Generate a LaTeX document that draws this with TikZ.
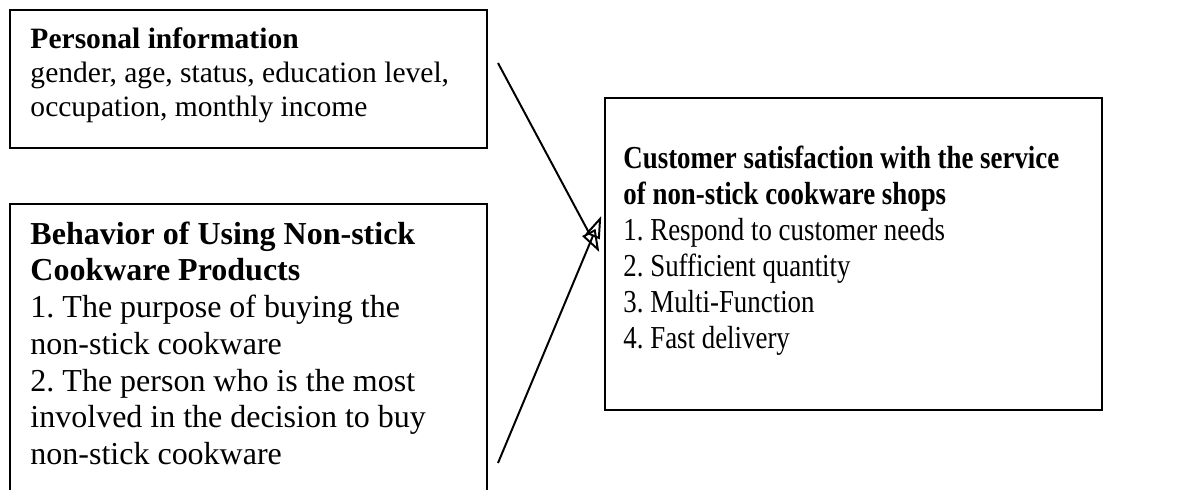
\documentclass[tikz,border=0pt]{standalone}
\usepackage{fontspec}
\setmainfont{Liberation Serif}
\newfontfamily\narrowserif[FakeStretch=0.84]{Liberation Serif}
\usetikzlibrary{arrows.meta}
\usetikzlibrary{fit}
\usetikzlibrary{calc}
\frenchspacing

\begin{document}
\begin{tikzpicture}[x=0.4064pt, y=-0.4064pt,
		box/.style={draw, line width=0.6pt, inner sep=0pt},
		txt/.style={align=left, inner sep=0pt, anchor=north west},
		arr/.style={line width=0.8pt, -{Triangle[open, length=9pt, width=6pt]}}]
		\useasboundingbox (0,0) rectangle (1197,490);
		\clip (0,0) rectangle (1197,490);
		
		\node[box, fit={(10,10) (487,148)}] (pinfo) {};
		\node[txt, font=\fontsize{12pt}{13.8pt}\selectfont] (pinfotext) at (30,27) {\textbf{Personal information}\\gender, age, status, education level,\\occupation, monthly income};
		
		\node[box, fit={(10,204) (487,530)}] (behav) {};
		\node[txt, font=\fontsize{13pt}{14.95pt}\selectfont] (behavtext) at (30,221) {\textbf{Behavior of Using Non-stick}\\\textbf{Cookware Products}\\1. The purpose of buying the\\non-stick cookware\\2. The person who is the most\\involved in the decision to buy\\non-stick cookware};
		
		\node[box, fit={(605,98) (1102,410)}] (satbox) {};
		\node[txt, font=\narrowserif\fontsize{13pt}{14.7pt}\selectfont] (sattext) at (623,145) {\textbf{Customer satisfaction with the service}\\\textbf{of non-stick cookware shops}\\1. Respond to customer needs\\2. Sufficient quantity\\3. Multi-Function\\4. Fast delivery};
		
		\coordinate (topstart) at (498,63);
		\coordinate (bottomstart) at (498,463);
		\coordinate (toptip) at ($(satbox.west)+(-5,-2)$);
		\coordinate (bottomtip) at ($(satbox.west)+(-3,-38)$);
		
		\draw[arr] (topstart) -- (toptip);
		\draw[arr] (bottomstart) -- (bottomtip);
		
	\end{tikzpicture}
\end{document}
